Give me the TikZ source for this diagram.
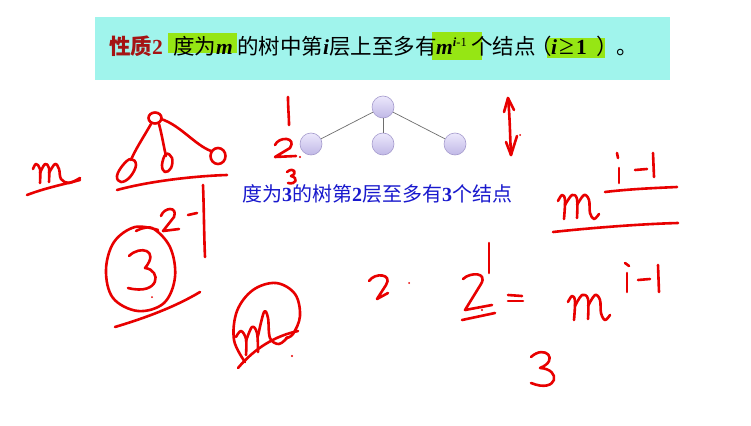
\documentclass[tikz,border=0pt]{standalone}
\usepackage{fontspec}
\setmainfont{Liberation Serif}
\newfontfamily\cjk{Noto Sans CJK SC}
\definecolor{banner}{RGB}{160,244,236}
\definecolor{hlgreen}{RGB}{150,230,20}
\definecolor{dred}{RGB}{165,20,20}
\definecolor{penred}{RGB}{232,0,0}
\definecolor{tblue}{RGB}{25,25,205}
\definecolor{nodeedge}{RGB}{165,155,205}
\begin{document}
\begin{tikzpicture}[x=1pt,y=-1pt,
  hand/.style={draw=penred,line width=2.6pt,line cap=round,line join=round},
  seg/.style={anchor=base west,inner sep=0pt,font=\fontsize{21.5}{21.5}\selectfont},
  tnode/.style={circle,minimum size=22pt,inner sep=0pt,draw=nodeedge,line width=0.6pt,
    top color={rgb,255:red,236;green,232;blue,252},bottom color={rgb,255:red,192;green,184;blue,230}},
  tedge/.style={draw={rgb,255:red,110;green,110;blue,110},line width=0.7pt}]
\useasboundingbox (0,0) rectangle (751,425);
\fill[white] (0,0) rectangle (751,425);
% banner
\fill[banner] (95,17) rectangle (670,80);
\fill[hlgreen] (168,33) rectangle (237,53);
\fill[hlgreen] (432,32) rectangle (482,60);
\fill[hlgreen] (547,38) rectangle (605,58);
\node[seg] (t1) at (109,55) {\color{dred}{\cjk\bfseries 性质}\bfseries 2};
\node[seg] (t2) at (173,55) {{\cjk 度为}{\bfseries\itshape m}};
\node[seg] (t3) at (237,55) {{\cjk 的树中第}{\bfseries\itshape i}{\cjk 层上至多有}};
\node[seg] (t4) at (436,55) {{\bfseries\itshape m}\raisebox{8pt}{\fontsize{12.5}{12.5}\selectfont{\bfseries\itshape i}-1}};
\node[seg] (t5) at (471,55) {{\cjk 个结点}};
\node[seg] (t6) at (530,55) {{\cjk （}};
\node[seg] (t7) at (551,55) {{\bfseries\itshape i}\hspace{2pt}{\fontsize{27}{27}\selectfont≥}\hspace{2pt}{\bfseries 1}};
\node[seg] (t8) at (596,55) {{\cjk ）}};
\node[seg] (t9) at (616,55) {{\cjk 。}};
% tree
\node[tnode] (r) at (383,107) {};
\node[tnode] (c1) at (311,144) {};
\node[tnode] (c2) at (383,144) {};
\node[tnode] (c3) at (455,144) {};
\draw[tedge] (r) -- (c1);
\draw[tedge] (r) -- (c2);
\draw[tedge] (r) -- (c3);
\node[anchor=base west,inner sep=0pt,text=tblue,font=\fontsize{20}{20}\selectfont] (cap) at (242,201)
  {{\cjk 度为}{\bfseries 3}{\cjk 的树第}{\bfseries 2}{\cjk 层至多有}{\bfseries 3}{\cjk 个结点}};
% ---------- handwriting ----------
% left m and underline
\draw[hand] plot[smooth,tension=0.6] coordinates {(33,169) (36,164) (40,169) (40,183)};
\draw[hand] plot[smooth,tension=0.6] coordinates {(40,173) (45,164) (49,168) (49,182)};
\draw[hand] plot[smooth,tension=0.6] coordinates {(49,173) (55,164) (59,169) (61,179) (69,183) (80,178)};
\draw[hand] (27,195) .. controls (45,188) and (65,184) .. (80,180);
% sketch tree
\draw[hand] (155,118) ellipse (6.5 and 5.5);
\draw[hand] (151,124) .. controls (143,138) and (135,150) .. (131,160);
\draw[hand] plot[smooth cycle,tension=0.7] coordinates {(131,159) (136,165) (130,177) (121,182) (117,176) (123,165)};
\draw[hand] (159,124) .. controls (162,135) and (164,148) .. (166,156);
\draw[hand] plot[smooth cycle,tension=0.7] coordinates {(166,154) (172,158) (171,168) (165,172) (162,165)};
\draw[hand] (161,119) .. controls (180,125) and (195,145) .. (211,151);
\draw[hand] (218,156) ellipse (7.5 and 8);
\draw[hand] (117,190) .. controls (150,181) and (195,176) .. (227,175);
% 2 - 1 and circled 3
\draw[hand] (161,216) .. controls (164,207) and (178,206) .. (174,217) -- (163,231) -- (179,229);
\draw[hand] (188,215) -- (197,213);
\draw[hand] (203,185) .. controls (204,210) and (204,235) .. (205,257);
\draw[hand] plot[smooth,tension=0.6] coordinates {(158,230) (135,227) (114,242) (106,270) (113,298) (138,311) (164,303) (175,277) (170,247) (152,228) (136,231)};
\draw[hand] (129,256) .. controls (140,245) and (160,250) .. (145,268) .. controls (162,270) and (160,296) .. (128,288);
\fill[penred] (152,297) circle (1);
\draw[hand] (115,327) .. controls (145,318) and (175,307) .. (200,292);
% circled m
\draw[hand] plot[smooth,tension=0.6] coordinates {(245,362) (234,340) (237,311) (253,290) (276,283) (295,294) (300,316) (293,334) (286,338)};
\draw[hand] plot[smooth,tension=0.6] coordinates {(236,337) (241,331) (246,339) (246,355)};
\draw[hand] plot[smooth,tension=0.6] coordinates {(246,341) (252,327) (257,333) (258,352)};
\draw[hand] plot[smooth,tension=0.6] coordinates {(258,336) (264,312) (268,318) (270,338) (279,344) (288,337)};
\draw[hand] (238,368) .. controls (255,348) and (275,336) .. (298,331);
\fill[penred] (292,356) circle (1.2);
% numbers near tree
\draw[hand] (288,97) .. controls (288,108) and (289,117) .. (289,125);
\draw[hand] (275,145) .. controls (279,136) and (297,137) .. (290,148) -- (275,157) -- (296,156);
\fill[penred] (300,157) circle (1.2);
\draw[hand] (287,172) .. controls (294,166) and (298,174) .. (291,176) .. controls (299,178) and (296,185) .. (288,183);
% double arrow
\draw[hand] (508,98) .. controls (510,118) and (510,138) .. (511,155);
\draw[hand] (504,112) -- (508,98) -- (514,110);
\draw[hand] (506,142) -- (511,155) -- (517,136);
\fill[penred] (520,135) circle (1);
% middle numbers
\draw[hand] (369,281) .. controls (375,272) and (393,274) .. (386,285) -- (377,299) -- (388,293);
\fill[penred] (409,283) circle (1);
\draw[hand] (463,279) .. controls (470,272) and (488,272) .. (481,284) -- (465,310) -- (492,305);
\fill[penred] (482,310) circle (1.2);
\draw[hand] (489,243) -- (489,273);
\draw[hand] (462,320) -- (495,313);
\draw[hand] (508,295) -- (522,296);
\draw[hand] (508,301) -- (523,301);
\draw[hand] (531,357) .. controls (545,344) and (560,360) .. (540,368) .. controls (562,369) and (558,394) .. (531,383);
% right m^{i-1} fraction
\draw[hand] plot[smooth,tension=0.6] coordinates {(558,201) (562,195) (565,200) (564,219)};
\draw[hand] plot[smooth,tension=0.6] coordinates {(565,205) (572,195) (577,199) (577,218)};
\draw[hand] plot[smooth,tension=0.6] coordinates {(577,205) (584,195) (589,200) (590,213) (594,219) (599,214)};
\draw[hand] (617,153) -- (618,158);
\draw[hand] (619,168) -- (619,183);
\draw[hand] (635,170) -- (647,169);
\draw[hand] (653,153) -- (654,177);
\draw[hand] (605,192) .. controls (630,189) and (655,188) .. (677,187);
\draw[hand] (553,232) .. controls (590,228) and (640,224) .. (678,223);
\draw[hand] plot[smooth,tension=0.6] coordinates {(568,302) (572,296) (575,301) (574,320)};
\draw[hand] plot[smooth,tension=0.6] coordinates {(575,306) (582,295) (588,299) (588,319)};
\draw[hand] plot[smooth,tension=0.6] coordinates {(588,306) (595,295) (600,300) (601,313) (605,320) (610,315)};
\draw[hand] (625,263) -- (629,266);
\draw[hand] (627,273) -- (627,292);
\draw[hand] (638,280) -- (650,279);
\draw[hand] (658,265) -- (659,292);
\end{tikzpicture}
\end{document}
